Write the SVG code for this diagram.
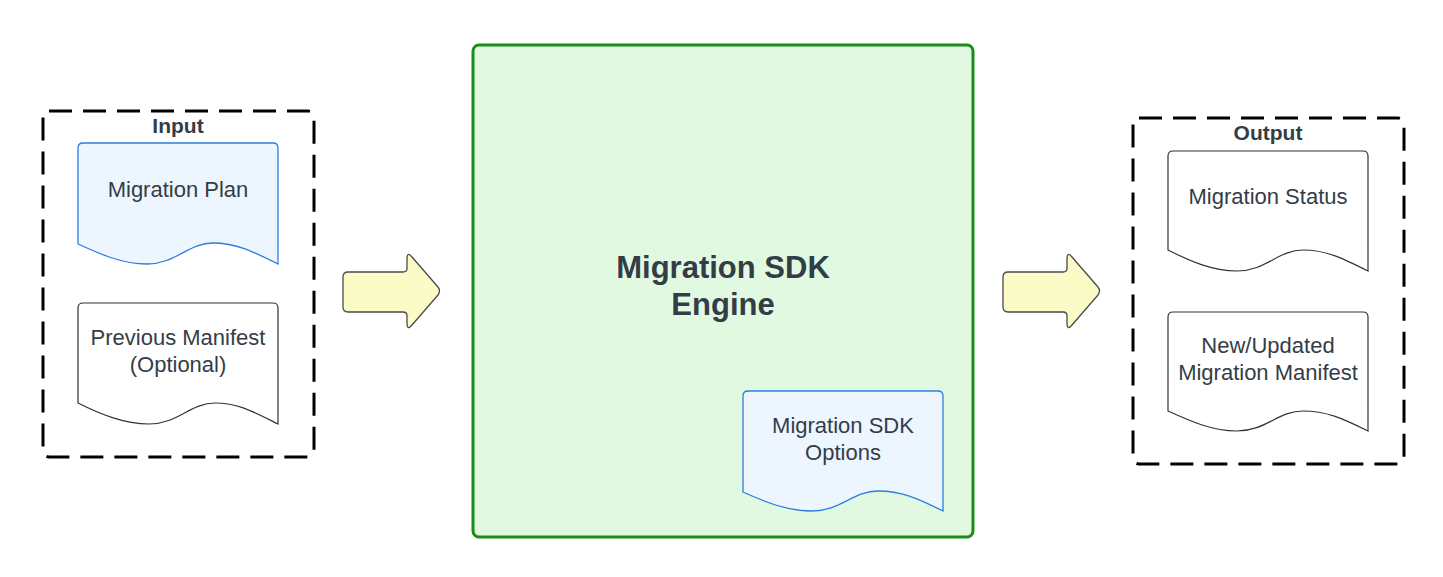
<svg xmlns="http://www.w3.org/2000/svg" width="1443" height="577" viewBox="0 0 1443 577">
  <style>
    .txt { font-family: "Liberation Sans", Arial, sans-serif; fill: #333d47; text-anchor: middle; }
    .doc { font-size: 22px; }
    .title { font-size: 21px; font-weight: bold; }
    .engine { font-size: 31px; font-weight: bold; }
    .group { fill: none; stroke: #000; stroke-width: 3; stroke-dasharray: 23 11; }
    .docblue { fill: #edf5ff; stroke: #2b7de0; stroke-width: 1.3; }
    .docwhite { fill: #ffffff; stroke: #333333; stroke-width: 1.2; }
    .arrow { fill: #fbfbc8; stroke: #4a4a4a; stroke-width: 1.3; stroke-linejoin: round; }
  </style>
  <rect width="1443" height="577" fill="#ffffff"/>

  <g id="input-group">
    <rect class="group" x="43" y="111" width="271" height="346" rx="6"/>
    <text class="txt title" x="178" y="133">Input</text>
  </g>

  <g id="migration-plan">
    <path class="docblue" d="M78,148 Q78,143 83,143 H273 Q278,143 278,148 V264 C252,251 236,243 213,243 C188,243 176,264 147,264 C122,264 100,254 78,244 Z"/>
    <text class="txt doc" x="178" y="197">Migration Plan</text>
  </g>

  <g id="previous-manifest">
    <path class="docwhite" d="M78,308 Q78,303 83,303 H273 Q278,303 278,308 V424 C252,411 238,403 215,403 C190,403 178,424 149,424 C124,424 100,414 78,403 Z"/>
    <text class="txt doc" x="178" y="345">Previous Manifest</text>
    <text class="txt doc" x="178" y="372">(Optional)</text>
  </g>

  <g id="engine">
    <rect x="473" y="45" width="500" height="492" rx="6" fill="#e1f9e1" stroke="#1a8c1a" stroke-width="3"/>
    <text class="txt engine" x="723" y="278">Migration SDK</text>
    <text class="txt engine" x="723" y="315">Engine</text>
  </g>

  <g id="sdk-options">
    <path class="docblue" d="M743,396 Q743,391 748,391 H938 Q943,391 943,396 V511 C917,498 901,491 878,491 C853,491 841,511 812,511 C787,511 765,502 743,492 Z"/>
    <text class="txt doc" x="843" y="433">Migration SDK</text>
    <text class="txt doc" x="843" y="460">Options</text>
  </g>

  <g id="output-group">
    <rect class="group" x="1133" y="118" width="271" height="346" rx="6"/>
    <text class="txt title" x="1268" y="140">Output</text>
  </g>

  <g id="migration-status">
    <path class="docwhite" d="M1168,156 Q1168,151 1173,151 H1363 Q1368,151 1368,156 V271 C1342,258 1326,250 1303,250 C1278,250 1266,271 1237,271 C1212,271 1190,261 1168,250 Z"/>
    <text class="txt doc" x="1268" y="204">Migration Status</text>
  </g>

  <g id="new-manifest">
    <path class="docwhite" d="M1168,317 Q1168,312 1173,312 H1363 Q1368,312 1368,317 V431 C1342,418 1326,411 1303,411 C1278,411 1266,431 1237,431 C1212,431 1190,421 1168,411 Z"/>
    <text class="txt doc" x="1268" y="353">New/Updated</text>
    <text class="txt doc" x="1268" y="380">Migration Manifest</text>
  </g>

  <g id="connectors">
    <path class="arrow" d="M348,272 H403 Q407,272 407,268 V259 Q407,251 412,257 L438,287 Q441,291 438,295 L412,325 Q407,331 407,323 V316 Q407,312 403,312 H348 Q343,312 343,307 V277 Q343,272 348,272 Z"/>
    <path class="arrow" d="M1008,272 H1063 Q1067,272 1067,268 V259 Q1067,251 1072,257 L1098,287 Q1101,291 1098,295 L1072,325 Q1067,331 1067,323 V316 Q1067,312 1063,312 H1008 Q1003,312 1003,307 V277 Q1003,272 1008,272 Z"/>
  </g>
</svg>
